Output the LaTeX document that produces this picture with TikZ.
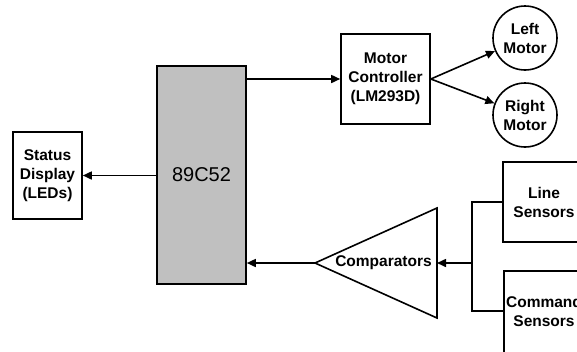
\documentclass[tikz,border=0pt]{standalone}
\usepackage{fontspec}
\setmainfont{Liberation Sans}
\usetikzlibrary{arrows.meta}
\begin{document}
\begin{tikzpicture}[x=1pt,y=-1pt,
  lw/.style={line width=1.6pt},
  lbl/.style={align=center, font=\bfseries\fontsize{15.5}{19}\selectfont, inner sep=0pt},
  box/.style={lbl, draw, lw, rectangle},
  motor/.style={lbl, draw, lw, circle, minimum size=64pt},
  arr/.style={lw, -{Triangle[length=9pt,width=8pt]}},
  wire/.style={lw}]
\useasboundingbox (0,0) rectangle (577,351);
% nodes
\node[box, fill={rgb,255:red,192;green,192;blue,192}, minimum width=89pt, minimum height=218pt,
      font=\fontsize{20}{24}\selectfont] (mcu) at (201.5,175) {89C52};
\node[box, minimum width=69pt, minimum height=87pt] (status) at (47.5,175.5) {Status\\Display\\(LEDs)};
\node[box, minimum width=89pt, minimum height=90pt] (mc) at (385.5,79) {Motor\\Controller\\(LM293D)};
\node[motor] (lm) at (525,38) {Left\\Motor};
\node[motor] (rm) at (525,115) {Right\\Motor};
\node[box, minimum width=82pt, minimum height=80pt] (ls) at (544,202) {Line\\Sensors};
\node[box, minimum width=81pt, minimum height=85pt] (cs) at (544.5,313.5) {};
\node[lbl] (cstext) at (544,311) {Command\\Sensors};
% comparator triangle
\coordinate (ctip) at (315,263);
\coordinate (ctop) at (437,208);
\coordinate (cbot) at (437,318);
\coordinate (cright) at (437,263);
\draw[lw, line join=miter] (ctip) -- (ctop) -- (cbot) -- cycle;
\node[lbl] (comp) at (383.5,263) {Comparators};
% connectors
\coordinate (mcuR1) at (mcu.east |- mc.west);
\coordinate (mcuR2) at (mcu.east |- ctip);
\coordinate (mcuL) at (mcu.west |- status.east);
\coordinate (bj) at (472,263);
\coordinate (bt) at (472,202);
\coordinate (bb) at (472,311);
\draw[arr] (mcuR1) -- (mc.west);
\draw[arr] (mcuL) -- (status.east);
\draw[arr] (mc.east) -- (lm);
\draw[arr] (mc.east) -- (rm);
\draw[arr] (ctip) -- (mcuR2);
\draw[arr] (bj) -- (cright);
\draw[wire] (ls.west |- bt) -- (bt) -- (bb) -- (cs.west |- bb);
\end{tikzpicture}
\end{document}
